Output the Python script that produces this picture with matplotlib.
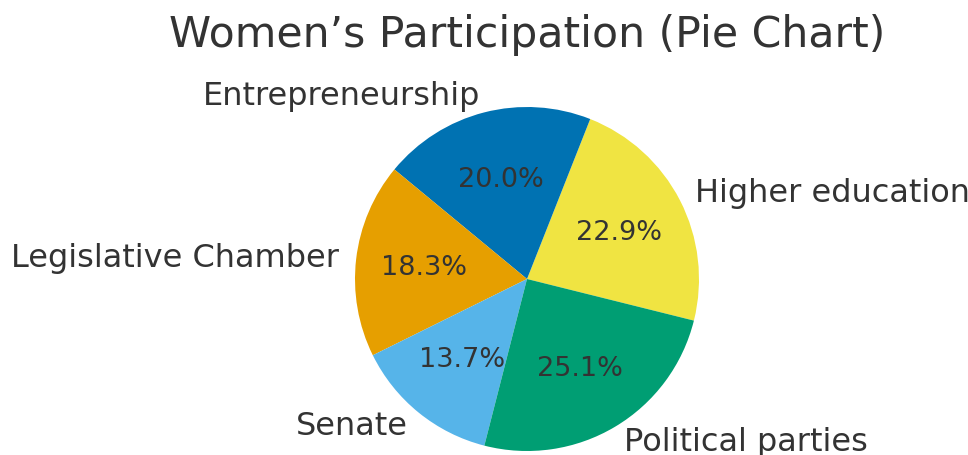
import matplotlib
matplotlib.use("Agg")
import matplotlib.pyplot as plt

labels = ["Higher education", "Entrepreneurship", "Legislative Chamber", "Senate", "Political parties"]
values = [22.9, 20.0, 18.3, 13.7, 25.1]
colors = ["#F0E442", "#0072B2", "#E69F00", "#56B4E9", "#009E73"]

W, H = 968, 456
fig = plt.figure(figsize=(W / 100, H / 100), dpi=100)
cx, cy, r = 527, 456 - 280, 172
half = 1.25 * r
ax = fig.add_axes([(cx - half) / W, (cy - half) / H, 2 * half / W, 2 * half / H])

wedges, texts, autotexts = ax.pie(
    values, labels=labels, colors=colors, autopct="%1.1f%%", startangle=-14,
    textprops={"fontsize": 23, "color": "#333333"},
)
for t in autotexts:
    t.set_fontsize(19.5)
ax.set_xlim(-1.25, 1.25)
ax.set_ylim(-1.25, 1.25)
ax.set_aspect("equal")
fig.text(cx / W, 1 - 35 / H, "Women’s Participation (Pie Chart)", ha="center", va="center",
         fontsize=30.7, color="#333333")
fig.savefig("out.png", dpi=100)
